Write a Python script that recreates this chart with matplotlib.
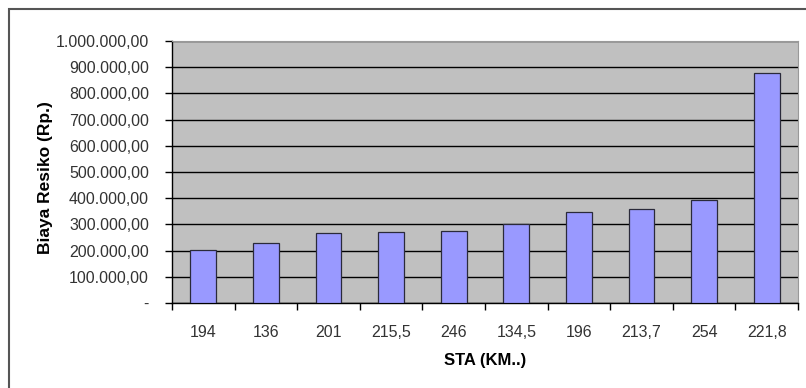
import matplotlib.pyplot as plt
from matplotlib.patches import Rectangle
from matplotlib.ticker import FuncFormatter, MultipleLocator

plt.rcParams['font.family'] = ['Liberation Sans', 'DejaVu Sans']

sta = ["194", "136", "201", "215,5", "246", "134,5", "196", "213,7", "254", "221,8"]
biaya = [203000, 228000, 267000, 270000, 274000, 300000, 346000, 357000, 395000, 877000]


def rupiah(v, pos):
    if v == 0:
        return "-"
    s = f"{v:,.2f}"
    return s.replace(",", "X").replace(".", ",").replace("X", ".")


fig = plt.figure(figsize=(8.06, 3.88), dpi=100)
fig.patch.set_facecolor("white")

# outer chart frame, cut by the right and bottom edges
fig.patches.append(Rectangle((9 / 806, -0.1), 1.2, 1 - 9 / 388 + 0.1,
                             transform=fig.transFigure, fill=False,
                             edgecolor="#555555", linewidth=1.5))

ax = fig.add_axes([172 / 806, 1 - 303 / 388, 626 / 806, 262 / 388])
ax.set_facecolor("#C0C0C0")

x = range(len(sta))
ax.bar(x, biaya, width=0.41, color="#9999FF", edgecolor="#2a2a3a",
       linewidth=0.9, zorder=3)

ax.set_xlim(-0.5, len(sta) - 0.5)
ax.set_ylim(0, 1000000)
ax.yaxis.set_major_locator(MultipleLocator(100000))
ax.yaxis.set_major_formatter(FuncFormatter(rupiah))
ax.set_xticks([i - 0.5 for i in range(len(sta) + 1)], minor=False)
ax.set_xticklabels([])
ax.set_xticks(list(x), minor=True)
ax.set_xticklabels(sta, minor=True)
ax.tick_params(axis="x", which="minor", length=0, pad=16, labelsize=11.5,
               labelcolor="#333333")
ax.tick_params(axis="x", which="major", length=5, width=1, color="black")
ax.tick_params(axis="y", length=5, width=1, pad=11.5, labelsize=11.5,
               labelcolor="#333333")

ax.grid(axis="y", color="black", linewidth=1, zorder=1)
ax.set_axisbelow(True)

for side in ["top", "right"]:
    ax.spines[side].set_color("#999999")
for side in ["left", "bottom"]:
    ax.spines[side].set_color("black")
    ax.spines[side].set_linewidth(1)

ax.set_xlabel("STA (KM..)", fontsize=12, fontweight="bold", labelpad=9)
ax.set_ylabel("Biaya Resiko (Rp.)", fontsize=12.5, fontweight="bold",
              labelpad=6)
ax.yaxis.set_label_coords(-0.19, 0.478)

fig.savefig("out.png", dpi=100)
